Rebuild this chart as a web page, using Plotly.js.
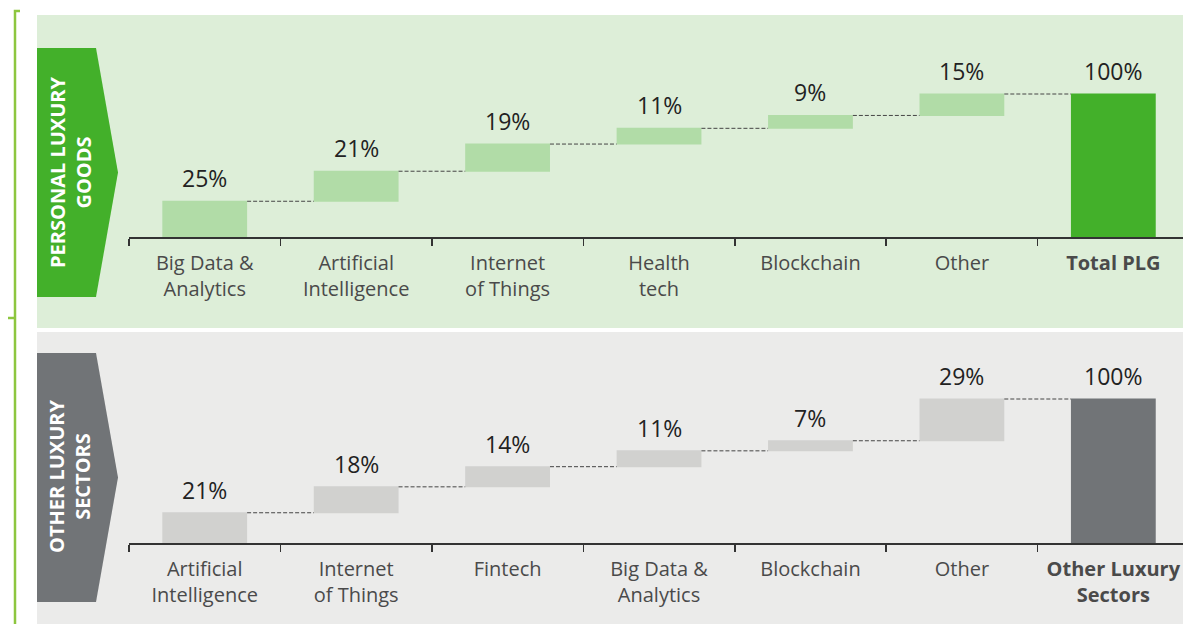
<!DOCTYPE html>
<html>
<head>
<meta charset="utf-8">
<script src="https://cdn.plot.ly/plotly-3.0.1.min.js"></script>
<style>
  html, body { margin: 0; padding: 0; background: #fff; }
  #chart { width: 1183px; height: 624px; }
</style>
</head>
<body>
<div id="chart"></div>
<script>
const W = 1183, H = 624;

// personal luxury goods
const plgCategories = ['Big Data &<br>Analytics', 'Artificial<br>Intelligence', 'Internet<br>of Things', 'Health<br>tech', 'Blockchain', 'Other', '<b>Total PLG</b>'];
const plgValues = [25, 21, 19, 11, 9, 15, 100];
const plgMeasures = ['relative', 'relative', 'relative', 'relative', 'relative', 'relative', 'total'];

// other luxury sectors
const olsCategories = ['Artificial<br>Intelligence', 'Internet<br>of Things', 'Fintech', 'Big Data &<br>Analytics', 'Blockchain', 'Other', '<b>Other Luxury</b><br><b>Sectors</b>'];
const olsValues = [21, 18, 14, 11, 7, 29, 100];
const olsMeasures = ['relative', 'relative', 'relative', 'relative', 'relative', 'relative', 'total'];

const panelLabels = ['PERSONAL LUXURY<br>GOODS', 'OTHER LUXURY<br>SECTORS'];

const font = 'Open Sans, Noto Sans, sans-serif';

// pixel -> paper helpers
const px = x => x / W;
const py = y => 1 - y / H;

function makeTrace(cats, vals, measures, barColor, totalColor, axisId) {
    return {
        type: 'waterfall',
        x: cats,
        y: vals,
        measure: measures,
        xaxis: 'x' + axisId,
        yaxis: 'y' + axisId,
        textinfo: 'none',
        hoverinfo: 'skip',
        increasing: { marker: { color: barColor } },
        decreasing: { marker: { color: barColor } },
        totals: { marker: { color: totalColor } },
        connector: { mode: 'between', line: { color: '#444', width: 1, dash: '4px,2px' } }
    };
}

// value labels sit just above each bar top
function makeLabels(cats, vals, measures, axisId) {
    let running = 0;
    return cats.map((c, i) => {
        let top = measures[i] === 'total' ? running : running + vals[i];
        if (measures[i] !== 'total') running += vals[i];
        return {
            x: c, y: top,
            xref: 'x' + axisId, yref: 'y' + axisId,
            text: vals[i] + '%',
            showarrow: false,
            yanchor: 'bottom',
            yshift: 5,
            font: { family: font, size: 23, color: '#222' }
        };
    });
}

function xAxis(anchor) {
    return {
        domain: [px(129), 1],
        range: [-0.5, 6.46],
        type: 'category',
        anchor: anchor,
        showline: true,
        linecolor: '#333',
        linewidth: 1.5,
        ticks: 'outside',
        tickson: 'boundaries',
        ticklen: 7,
        tickwidth: 1.5,
        tickcolor: '#333',
        ticklabelstandoff: 7,
        tickfont: { family: font, size: 20, color: '#4a4a4a' },
        showgrid: false,
        zeroline: false,
        fixedrange: true
    };
}

function yAxis(top, bottom, perUnit) {
    return {
        domain: [py(bottom), py(top)],
        range: [0, (bottom - top) / perUnit],
        visible: false,
        fixedrange: true
    };
}

function chevron(top, bottom) {
    const mid = (top + bottom) / 2;
    return `M ${px(37)},${py(top)} L ${px(96)},${py(top)} L ${px(118)},${py(mid)} ` +
        `L ${px(96)},${py(bottom)} L ${px(37)},${py(bottom)} Z`;
}

function panelLabel(text, yCenter) {
    return {
        x: px(70), y: py(yCenter), xref: 'paper', yref: 'paper',
        xanchor: 'center', yanchor: 'middle',
        text: '<b>' + text.replace('<br>', '</b><br><b>') + '</b>',
        showarrow: false, textangle: -90,
        font: { family: font, size: 20, color: '#fff' }
    };
}

const traces = [
    makeTrace(plgCategories, plgValues, plgMeasures, '#b1dca7', '#43b02a', ''),
    makeTrace(olsCategories, olsValues, olsMeasures, '#d1d1cf', '#717477', '2')
];

const shapes = [
    // panel backgrounds
    { type: 'rect', xref: 'paper', yref: 'paper', x0: px(37), x1: 1, y0: py(328), y1: py(15),
      fillcolor: '#ddeed8', line: { width: 0 }, layer: 'below' },
    { type: 'rect', xref: 'paper', yref: 'paper', x0: px(37), x1: 1, y0: 0, y1: py(332),
      fillcolor: '#ebebea', line: { width: 0 }, layer: 'below' },
    // chevron labels
    { type: 'path', xref: 'paper', yref: 'paper', path: chevron(48, 297),
      fillcolor: '#43b02a', line: { width: 0 }, layer: 'below' },
    { type: 'path', xref: 'paper', yref: 'paper', path: chevron(353, 602),
      fillcolor: '#717477', line: { width: 0 }, layer: 'below' },
    // bracket on the far left
    { type: 'path', xref: 'paper', yref: 'paper',
      path: `M ${px(20)},${py(11)} L ${px(15)},${py(11)} L ${px(15)},0`,
      line: { color: '#8dc63f', width: 2.5 } },
    { type: 'line', xref: 'paper', yref: 'paper', x0: px(8), x1: px(15), y0: py(318), y1: py(318),
      line: { color: '#8dc63f', width: 2.5 } }
];

const annotations = [
    ...makeLabels(plgCategories, plgValues, plgMeasures, ''),
    ...makeLabels(olsCategories, olsValues, olsMeasures, '2'),
    panelLabel(panelLabels[0], 172),
    panelLabel(panelLabels[1], 477)
];

const layout = {
    width: W,
    height: H,
    margin: { l: 0, r: 0, t: 0, b: 0 },
    paper_bgcolor: '#fff',
    plot_bgcolor: 'rgba(0,0,0,0)',
    showlegend: false,
    waterfallgap: 0.44,
    font: { family: font },
    xaxis: xAxis('y'),
    yaxis: yAxis(20, 237, 1.43),
    xaxis2: xAxis('y2'),
    yaxis2: yAxis(340, 543, 1.44),
    shapes: shapes,
    annotations: annotations
};

Plotly.newPlot('chart', traces, layout, { displayModeBar: false, staticPlot: true });
</script>
</body>
</html>
